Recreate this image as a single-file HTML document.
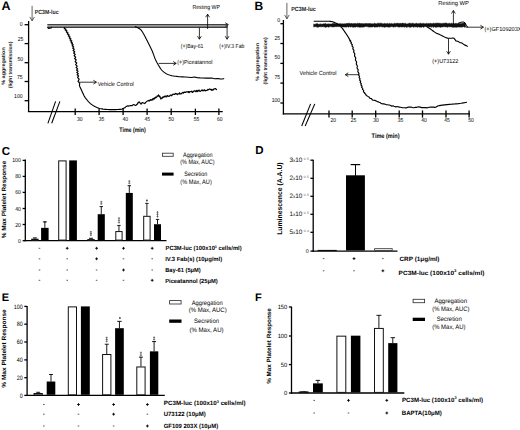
<!DOCTYPE html>
<html><head><meta charset="utf-8"><title>Figure</title>
<style>
html,body{margin:0;padding:0;background:#fff;width:520px;height:430px;overflow:hidden;}
svg{display:block;}
text{font-family:"Liberation Sans",sans-serif;text-rendering:geometricPrecision;}
</style></head><body>
<svg width="520" height="430" viewBox="0 0 520 430">
<defs><clipPath id="clipR"><rect x="0" y="0" width="520" height="430"/></clipPath></defs>
<rect x="0" y="0" width="520" height="430" fill="#fff"/>
<text x="1.6" y="10.2" font-size="12.5" font-weight="bold" fill="#000">A</text>
<line x1="28.6" y1="21" x2="28.6" y2="111.9" stroke="#000" stroke-width="1.3"/>
<line x1="27.95" y1="111.6" x2="222.7" y2="111.6" stroke="#000" stroke-width="1.3"/>
<line x1="24.6" y1="24.7" x2="28.6" y2="24.7" stroke="#000" stroke-width="1.3"/>
<line x1="24.6" y1="43.6" x2="28.6" y2="43.6" stroke="#000" stroke-width="1.3"/>
<line x1="24.6" y1="62.7" x2="28.6" y2="62.7" stroke="#000" stroke-width="1.3"/>
<line x1="24.6" y1="81.5" x2="28.6" y2="81.5" stroke="#000" stroke-width="1.3"/>
<line x1="24.6" y1="100.7" x2="28.6" y2="100.7" stroke="#000" stroke-width="1.3"/>
<text transform="translate(22.6,25.8) scale(0.88,1)" text-anchor="end" font-size="5.8" fill="#000">0</text>
<text transform="translate(23.4,40.8) scale(0.88,1)" text-anchor="end" font-size="5.8" fill="#000">25</text>
<text transform="translate(23.1,60.5) scale(0.88,1)" text-anchor="end" font-size="5.8" fill="#000">50</text>
<text transform="translate(22.6,78.7) scale(0.88,1)" text-anchor="end" font-size="5.8" fill="#000">75</text>
<text transform="translate(22.6,97.9) scale(0.88,1)" text-anchor="end" font-size="5.8" fill="#000">100</text>
<line x1="75.2" y1="108.6" x2="75.2" y2="115.0" stroke="#000" stroke-width="1.3"/>
<line x1="99.1" y1="108.6" x2="99.1" y2="115.0" stroke="#000" stroke-width="1.3"/>
<line x1="123.1" y1="108.6" x2="123.1" y2="115.0" stroke="#000" stroke-width="1.3"/>
<line x1="147.1" y1="108.6" x2="147.1" y2="115.0" stroke="#000" stroke-width="1.3"/>
<line x1="171.2" y1="108.6" x2="171.2" y2="115.0" stroke="#000" stroke-width="1.3"/>
<line x1="195.4" y1="108.6" x2="195.4" y2="115.0" stroke="#000" stroke-width="1.3"/>
<line x1="218.9" y1="108.6" x2="218.9" y2="115.0" stroke="#000" stroke-width="1.3"/>
<text transform="translate(79.8,120.8) scale(0.86,1)" text-anchor="middle" font-size="5.8" fill="#000">30</text>
<text transform="translate(101.4,120.8) scale(0.86,1)" text-anchor="middle" font-size="5.8" fill="#000">35</text>
<text transform="translate(125.3,120.8) scale(0.86,1)" text-anchor="middle" font-size="5.8" fill="#000">40</text>
<text transform="translate(147.2,120.8) scale(0.86,1)" text-anchor="middle" font-size="5.8" fill="#000">45</text>
<text transform="translate(171.3,120.8) scale(0.86,1)" text-anchor="middle" font-size="5.8" fill="#000">50</text>
<text transform="translate(196.6,120.8) scale(0.86,1)" text-anchor="middle" font-size="5.8" fill="#000">55</text>
<text transform="translate(219.8,120.8) scale(0.86,1)" text-anchor="middle" font-size="5.8" fill="#000">60</text>
<text x="119.3" y="131.8" font-size="6.5" font-weight="bold" textLength="26.5" lengthAdjust="spacingAndGlyphs" fill="#000">Time (min)</text>
<line x1="47.9" y1="123.3" x2="55.6" y2="101.4" stroke="#000" stroke-width="1.05"/>
<line x1="51.7" y1="123.3" x2="59.9" y2="101.4" stroke="#000" stroke-width="1.05"/>
<text transform="translate(5.4,66.0) rotate(-90)" font-size="5.0" font-weight="bold" text-anchor="middle" textLength="37.5" lengthAdjust="spacingAndGlyphs" fill="#222">% aggregation</text>
<text transform="translate(11.7,64.9) rotate(-90)" font-size="5.0" font-weight="bold" text-anchor="middle" textLength="46.5" lengthAdjust="spacingAndGlyphs" fill="#222">(light transmission)</text>
<line x1="32.1" y1="5.8" x2="32.1" y2="20.8" stroke="#222" stroke-width="0.7"/>
<path d="M29.80,16.90 L32.10,20.80 L34.40,16.90" fill="none" stroke="#222" stroke-width="0.7" stroke-linejoin="round"/>
<text x="34.8" y="14.4" font-size="6.0" font-weight="bold" textLength="23.8" lengthAdjust="spacingAndGlyphs" fill="#222">PC3M-luc</text>
<rect x="47.4" y="24.3" width="180.6" height="3.4" fill="#9a9a9a"/>
<line x1="47.4" y1="24.5" x2="228" y2="24.5" stroke="#333" stroke-width="0.9"/>
<line x1="47.4" y1="27.3" x2="227" y2="27.3" stroke="#222" stroke-width="1.0"/>
<path d="M47.50,27.30 L48.50,28.30 L51.00,28.00 L52.00,27.30" fill="none" stroke="#000" stroke-width="1.2" stroke-linejoin="round"/>
<path d="M225.20,22.80 L228.40,24.60 L225.20,26.40" fill="none" stroke="#222" stroke-width="0.9" stroke-linejoin="round"/>
<path d="M64.20,27.30 L64.50,27.75 L64.22,28.40 L66.11,29.17 L65.20,30.00 L67.10,30.91 L66.24,31.93 L68.18,32.98 L67.30,34.00 L69.20,34.98 L68.28,35.94 L70.15,36.91 L69.20,37.90 L71.03,38.92 L70.04,39.96 L71.83,40.99 L70.80,42.00 L72.55,42.95 L71.49,43.86 L73.20,44.79 L72.10,45.80 L73.77,46.90 L72.62,48.06 L74.26,49.27 L73.10,50.50 L74.75,51.75 L73.60,53.03 L75.25,54.35 L74.10,55.70 L75.75,57.10 L74.60,58.55 L76.25,60.02 L75.10,61.50 L76.76,63.01 L75.62,64.55 L77.27,66.07 L76.10,67.50 L77.70,68.82 L76.47,70.07 L78.03,71.28 L76.80,72.50 L78.36,73.66 L77.12,74.77 L78.69,75.97 L77.50,77.40 L79.15,79.25 L78.03,81.39 L79.75,83.51 L79.40,85.30 L79.81,86.61 L80.26,87.64 L80.74,88.54 L81.20,89.50 L81.65,90.54 L82.09,91.58 L82.54,92.61 L83.00,93.60 L83.47,94.56 L83.96,95.51 L84.46,96.42 L85.00,97.30 L85.58,98.14 L86.19,98.94 L86.83,99.72 L87.50,100.50 L88.20,101.30 L88.94,102.10 L89.70,102.88 L90.50,103.60 L91.33,104.26 L92.19,104.88 L93.08,105.45 L94.00,106.00 L94.96,106.53 L95.97,107.04 L96.99,107.50 L98.00,107.90 L99.00,108.22 L100.00,108.49 L101.00,108.71 L102.00,108.90 L103.00,109.07 L104.00,109.20 L105.00,109.31 L106.00,109.40 L107.00,109.48 L108.00,109.53 L109.00,109.57 L110.00,109.60 L111.00,109.62 L112.00,109.62 L113.00,109.61 L114.00,109.60 L115.00,109.59 L116.00,109.57 L117.00,109.54 L118.00,109.50 L119.09,109.43 L120.25,109.34 L121.28,109.26 L122.00,109.20" fill="none" stroke="#000" stroke-width="1.15" stroke-linejoin="round"/>
<path d="M122.00,109.06 L122.75,108.62 L123.50,108.72 L124.18,107.80 L124.86,107.71 L125.54,107.11 L126.22,106.41 L126.90,106.31 L127.78,105.85 L128.65,106.10 L129.53,105.73 L130.40,105.67 L131.25,105.64 L132.10,105.66 L132.95,104.80 L133.80,104.58 L134.60,105.00 L135.40,105.36 L136.20,105.16 L136.76,104.38 L137.32,104.20 L137.88,102.82 L138.44,102.83 L139.00,101.73 L139.60,102.38 L140.20,103.13 L140.80,104.05 L141.37,103.89 L141.93,102.81 L142.50,102.57 L143.27,102.98 L144.03,103.13 L144.80,103.64 L145.38,102.68 L145.95,102.10 L146.53,101.64 L147.10,101.44" fill="none" stroke="#000" stroke-width="1.15" stroke-linejoin="round"/>
<path d="M147.10,101.19 L147.54,100.85 L147.99,101.10 L148.43,100.73 L148.88,100.33 L149.32,100.91 L149.77,100.60 L150.21,99.75 L150.66,100.08 L151.10,99.84 L151.54,100.20 L151.97,99.82 L152.41,98.99 L152.85,99.87 L153.29,98.41 L153.72,98.70 L154.16,99.05 L154.60,97.98 L154.96,98.17 L155.33,97.17 L155.69,97.80 L156.05,97.62 L156.42,97.02 L156.78,97.15 L157.15,95.99 L157.51,96.25 L157.87,95.78 L158.24,95.44 L158.60,94.93 L158.87,95.90 L159.13,96.44 L159.40,96.13 L159.67,96.80 L159.93,96.29 L160.20,97.64 L160.47,97.94 L160.73,98.85 L161.00,98.98 L161.44,97.98 L161.89,97.93 L162.33,98.15 L162.78,96.98 L163.22,97.44 L163.67,96.80 L164.11,96.53 L164.56,96.24 L165.00,97.10 L165.46,96.03 L165.92,96.10 L166.38,96.21 L166.84,96.82 L167.30,95.52 L167.76,95.96 L168.22,96.00 L168.68,96.40 L169.14,96.19 L169.60,96.15 L170.06,95.15 L170.52,95.23 L170.98,95.03 L171.44,95.70 L171.90,95.69 L172.36,94.36 L172.82,94.27 L173.28,94.24 L173.74,94.12 L174.20,94.38 L174.65,94.46 L175.09,93.89 L175.54,93.43 L175.98,93.97 L176.43,93.82 L176.88,94.04 L177.32,94.54 L177.77,94.07 L178.22,93.73 L178.66,93.81 L179.11,93.82 L179.55,92.81 L180.00,94.00 L180.47,93.76 L180.94,93.83 L181.41,93.65 L181.88,92.98 L182.35,92.92 L182.82,92.42 L183.29,93.15 L183.76,92.23 L184.24,92.17 L184.71,92.32 L185.18,92.18 L185.65,92.38 L186.12,91.89 L186.59,91.74 L187.06,91.91 L187.53,91.77 L188.00,92.10 L188.46,91.53 L188.92,92.74 L189.39,92.29 L189.85,91.53 L190.31,91.62 L190.77,91.70 L191.23,91.66 L191.70,91.24 L192.16,92.27 L192.62,92.42 L193.08,91.57 L193.54,91.53 L194.00,90.87 L194.47,90.84 L194.93,91.14 L195.39,90.96 L195.85,91.74 L196.31,90.68 L196.78,90.41 L197.24,91.74 L197.70,91.04 L198.16,90.42 L198.61,90.96 L199.07,90.13 L199.53,90.83 L199.99,91.46 L200.44,91.23 L200.90,90.93 L201.36,90.22 L201.81,90.33 L202.27,89.98 L202.73,90.83 L203.19,90.42 L203.64,90.74 L204.10,90.01 L204.56,89.80 L205.01,90.63 L205.47,90.84 L205.93,90.59 L206.39,90.46 L206.84,90.43 L207.30,90.26 L207.76,89.45 L208.22,89.84 L208.69,89.55 L209.15,89.02 L209.61,88.98 L210.07,89.31 L210.53,89.24 L211.00,89.85 L211.46,90.20 L211.92,89.39 L212.38,90.08 L212.84,90.12 L213.30,90.03 L213.77,89.10 L214.23,88.84 L214.69,88.80 L215.15,88.72 L215.61,88.69 L216.08,89.27 L216.54,89.64 L217.00,89.51" fill="none" stroke="#000" stroke-width="1.2" stroke-linejoin="round"/>
<line x1="79.0" y1="82.2" x2="96.4" y2="82.2" stroke="#000" stroke-width="0.8"/>
<path d="M93.40,80.30 L96.40,82.20 L93.40,84.10" fill="none" stroke="#000" stroke-width="0.8" stroke-linejoin="round"/>
<text x="97.8" y="86.0" font-size="6.0" textLength="36.0" lengthAdjust="spacingAndGlyphs" fill="#000">Vehicle Control</text>
<path d="M135.00,26.60 L135.44,26.76 L136.06,26.98 L136.77,27.26 L137.50,27.60 L138.26,28.02 L139.08,28.50 L139.89,29.03 L140.60,29.60 L141.18,30.19 L141.68,30.83 L142.14,31.49 L142.60,32.20 L143.06,32.94 L143.50,33.73 L143.94,34.54 L144.40,35.40 L144.89,36.31 L145.39,37.26 L145.90,38.24 L146.40,39.20 L146.88,40.15 L147.35,41.09 L147.82,42.04 L148.30,43.00 L148.80,43.99 L149.31,45.00 L149.81,46.01 L150.30,47.00 L150.77,47.96 L151.23,48.91 L151.68,49.85 L152.10,50.80 L152.50,51.75 L152.87,52.69 L153.24,53.64 L153.60,54.60 L153.95,55.58 L154.30,56.59 L154.65,57.57 L155.00,58.50 L155.37,59.37 L155.75,60.19 L156.13,60.97 L156.50,61.70 L156.85,62.36 L157.17,62.95 L157.52,63.54 L157.90,64.20 L158.34,64.96 L158.82,65.79 L159.31,66.63 L159.80,67.40 L160.27,68.10 L160.72,68.76 L161.20,69.39 L161.70,70.00 L162.24,70.59 L162.81,71.16 L163.40,71.70 L164.00,72.20 L164.60,72.65 L165.21,73.06 L165.84,73.44 L166.50,73.80 L167.22,74.14 L167.98,74.45 L168.75,74.74 L169.50,75.00 L170.19,75.24 L170.86,75.44 L171.54,75.63 L172.30,75.80 L173.15,75.95 L174.08,76.08 L175.03,76.19 L176.00,76.30 L176.80,76.40 L177.51,76.49 L178.47,76.59 L180.00,76.70 L182.35,76.84 L185.28,76.98 L188.45,77.28 L191.50,77.54 L194.37,77.07 L197.24,77.62 L200.12,77.90 L203.00,77.93 L205.94,78.09 L208.92,78.10 L211.84,78.08 L214.60,78.73 L217.37,78.44 L220.12,78.84 L222.52,78.98 L224.20,78.52" fill="none" stroke="#000" stroke-width="1.1" stroke-linejoin="round"/>
<line x1="158.6" y1="63.4" x2="176.2" y2="63.4" stroke="#000" stroke-width="0.8"/>
<path d="M173.20,61.50 L176.20,63.40 L173.20,65.30" fill="none" stroke="#000" stroke-width="0.8" stroke-linejoin="round"/>
<text x="177.2" y="64.3" font-size="5.9" textLength="35.2" lengthAdjust="spacingAndGlyphs" fill="#000">(+)Piceatannol</text>
<line x1="207.6" y1="29.0" x2="207.6" y2="14.2" stroke="#000" stroke-width="0.8"/>
<path d="M205.70,17.20 L207.60,14.20 L209.50,17.20" fill="none" stroke="#000" stroke-width="0.8" stroke-linejoin="round"/>
<text x="192.4" y="9.4" font-size="5.9" textLength="27.6" lengthAdjust="spacingAndGlyphs" fill="#000">Resting WP</text>
<line x1="199.4" y1="27.6" x2="199.4" y2="39.2" stroke="#000" stroke-width="0.8"/>
<path d="M197.50,36.20 L199.40,39.20 L201.30,36.20" fill="none" stroke="#000" stroke-width="0.8" stroke-linejoin="round"/>
<text x="180.8" y="47.5" font-size="5.9" textLength="22.6" lengthAdjust="spacingAndGlyphs" fill="#000">(+)Bay-61</text>
<line x1="227.1" y1="25.5" x2="227.1" y2="39.2" stroke="#000" stroke-width="0.8"/>
<path d="M225.20,36.20 L227.10,39.20 L229.00,36.20" fill="none" stroke="#000" stroke-width="0.8" stroke-linejoin="round"/>
<text x="219.3" y="47.5" font-size="5.9" textLength="25.0" lengthAdjust="spacingAndGlyphs" fill="#000">(+)IV.3 Fab</text>
<text x="254.4" y="10.0" font-size="12.0" font-weight="bold" fill="#000">B</text>
<line x1="283.4" y1="20.0" x2="283.4" y2="114.5" stroke="#000" stroke-width="1.3"/>
<line x1="282.75" y1="113.9" x2="470.0" y2="113.9" stroke="#000" stroke-width="1.3"/>
<line x1="280.4" y1="23.7" x2="283.4" y2="23.7" stroke="#000" stroke-width="1.3"/>
<line x1="280.4" y1="43.5" x2="283.4" y2="43.5" stroke="#000" stroke-width="1.3"/>
<line x1="280.4" y1="63.4" x2="283.4" y2="63.4" stroke="#000" stroke-width="1.3"/>
<line x1="280.4" y1="83.1" x2="283.4" y2="83.1" stroke="#000" stroke-width="1.3"/>
<line x1="280.4" y1="103.0" x2="283.4" y2="103.0" stroke="#000" stroke-width="1.3"/>
<text transform="translate(280.2,22.2) scale(0.88,1)" text-anchor="end" font-size="5.8" fill="#000">0</text>
<text transform="translate(280.2,40.2) scale(0.88,1)" text-anchor="end" font-size="5.8" fill="#000">25</text>
<text transform="translate(280.2,59.2) scale(0.88,1)" text-anchor="end" font-size="5.8" fill="#000">50</text>
<text transform="translate(280.2,79.2) scale(0.88,1)" text-anchor="end" font-size="5.8" fill="#000">75</text>
<text transform="translate(280.2,101.6) scale(0.88,1)" text-anchor="end" font-size="5.8" fill="#000">100</text>
<line x1="329.0" y1="110.4" x2="329.0" y2="117.6" stroke="#000" stroke-width="1.3"/>
<line x1="352.2" y1="110.4" x2="352.2" y2="117.6" stroke="#000" stroke-width="1.3"/>
<line x1="375.7" y1="110.4" x2="375.7" y2="117.6" stroke="#000" stroke-width="1.3"/>
<line x1="399.2" y1="110.4" x2="399.2" y2="117.6" stroke="#000" stroke-width="1.3"/>
<line x1="422.5" y1="110.4" x2="422.5" y2="117.6" stroke="#000" stroke-width="1.3"/>
<line x1="446.0" y1="110.4" x2="446.0" y2="117.6" stroke="#000" stroke-width="1.3"/>
<line x1="469.1" y1="110.4" x2="469.1" y2="117.6" stroke="#000" stroke-width="1.3"/>
<text transform="translate(333.3,122.3) scale(0.86,1)" text-anchor="middle" font-size="5.8" fill="#000">20</text>
<text transform="translate(353.4,122.3) scale(0.86,1)" text-anchor="middle" font-size="5.8" fill="#000">25</text>
<text transform="translate(375.9,122.3) scale(0.86,1)" text-anchor="middle" font-size="5.8" fill="#000">30</text>
<text transform="translate(400.5,122.3) scale(0.86,1)" text-anchor="middle" font-size="5.8" fill="#000">35</text>
<text transform="translate(423.9,122.3) scale(0.86,1)" text-anchor="middle" font-size="5.8" fill="#000">40</text>
<text transform="translate(446.9,122.3) scale(0.86,1)" text-anchor="middle" font-size="5.8" fill="#000">45</text>
<text transform="translate(471.0,122.3) scale(0.86,1)" text-anchor="middle" font-size="5.8" fill="#000">50</text>
<text x="371.6" y="138.2" font-size="6.5" font-weight="bold" textLength="28.0" lengthAdjust="spacingAndGlyphs" fill="#000">Time (min)</text>
<line x1="301.7" y1="126.0" x2="310.6" y2="103.9" stroke="#000" stroke-width="1.05"/>
<line x1="305.2" y1="126.0" x2="314.8" y2="103.9" stroke="#000" stroke-width="1.05"/>
<text transform="translate(258.8,61.9) rotate(-90)" font-size="5.0" font-weight="bold" text-anchor="middle" textLength="38.0" lengthAdjust="spacingAndGlyphs" fill="#222">% aggregation</text>
<text transform="translate(266.8,60.9) rotate(-90)" font-size="5.0" font-weight="bold" text-anchor="middle" textLength="47.0" lengthAdjust="spacingAndGlyphs" fill="#222">(light transmission)</text>
<line x1="286.9" y1="2.9" x2="286.9" y2="18.8" stroke="#222" stroke-width="0.7"/>
<path d="M284.60,14.90 L286.90,18.80 L289.20,14.90" fill="none" stroke="#222" stroke-width="0.7" stroke-linejoin="round"/>
<text x="291.2" y="11.3" font-size="6.0" font-weight="bold" textLength="24.6" lengthAdjust="spacingAndGlyphs" fill="#222">PC3M-luc</text>
<path d="M313.70,23.92 L314.51,24.35 L315.32,24.16 L316.14,23.71 L316.95,23.67 L317.76,23.68 L318.57,24.27 L319.39,24.18 L320.20,23.65 L321.01,24.18 L321.82,24.30 L322.64,24.03 L323.45,23.78 L324.26,23.92 L325.07,23.58 L325.88,23.48 L326.70,24.24 L327.51,23.97 L328.32,23.86 L329.13,24.18 L329.95,23.77 L330.76,24.11 L331.57,24.07 L332.38,23.57 L333.19,23.59 L334.01,23.62 L334.82,23.56 L335.63,23.83 L336.44,23.56 L337.26,23.68 L338.07,23.44 L338.88,24.06 L339.69,23.60 L340.51,23.68 L341.32,23.77 L342.13,24.02 L342.94,23.62 L343.75,24.01 L344.57,23.67 L345.38,23.68 L346.19,23.67 L347.00,23.26 L347.82,23.58 L348.63,23.37 L349.44,23.22 L350.25,23.84 L351.06,23.33 L351.88,23.57 L352.69,23.76 L353.50,23.62 L354.31,23.42 L355.13,23.57 L355.94,23.59 L356.75,23.76 L357.56,23.21 L358.38,23.57 L359.19,23.31 L360.00,23.32 L360.80,23.72 L361.60,23.51 L362.40,23.55 L363.20,23.71 L364.00,23.83 L364.80,23.45 L365.60,23.59 L366.40,23.50 L367.20,23.51 L368.00,23.65 L368.80,23.46 L369.60,23.53 L370.40,23.48 L371.20,23.85 L372.00,23.66 L372.80,23.80 L373.60,23.85 L374.40,23.31 L375.20,23.55 L376.00,23.85 L376.80,23.77 L377.60,23.21 L378.40,23.20 L379.20,23.45 L380.00,23.16 L380.80,23.29 L381.60,23.16 L382.40,23.64 L383.20,23.73 L384.00,23.82 L384.80,23.22 L385.60,23.67 L386.40,23.63 L387.20,23.21 L388.00,23.81 L388.80,23.87 L389.60,23.28 L390.40,23.86 L391.20,23.42 L392.00,23.49 L392.80,23.89 L393.60,23.77 L394.40,23.23 L395.20,23.45 L396.00,23.51 L396.80,23.37 L397.60,23.26 L398.40,23.35 L399.20,23.68 L400.00,23.12 L400.80,23.54 L401.60,23.45 L402.40,23.11 L403.20,23.37 L404.00,23.60 L404.80,23.51 L405.60,23.15 L406.40,23.89 L407.20,23.73 L408.00,23.88 L408.80,23.18 L409.60,23.31 L410.40,23.13 L411.20,23.72 L412.00,23.32 L412.80,23.20 L413.60,23.44 L414.40,23.83 L415.20,23.76 L416.00,23.31 L416.80,23.22 L417.60,23.84 L418.40,23.56 L419.20,23.66 L420.00,23.17 L420.81,23.14 L421.62,23.65 L422.44,23.43 L423.25,23.15 L424.06,23.84 L424.88,23.60 L425.69,23.73 L426.50,23.15 L427.31,23.77 L428.12,23.14 L428.94,23.77 L429.75,23.44 L430.56,23.35 L431.38,23.52 L432.19,23.81 L433.00,23.29 L433.81,23.17 L434.62,23.49 L435.44,23.26 L436.25,23.15 L437.06,23.19 L437.88,23.10 L438.69,23.22 L439.50,23.31 L440.31,23.30 L441.12,23.66 L441.94,23.28 L442.75,23.45 L443.56,23.19 L444.38,23.32 L445.19,23.06 L446.00,23.24 L446.81,23.05 L447.62,23.63 L448.44,23.48 L449.25,23.19 L450.06,23.41 L450.88,23.78 L451.69,23.12 L452.50,23.68 L453.31,23.37 L454.12,23.42 L454.94,23.69 L455.75,23.34 L456.56,23.42 L457.38,23.57 L458.19,23.80 L459.00,23.29 L459.81,23.68 L460.62,23.58 L461.44,23.52 L462.25,23.33 L463.06,23.28 L463.88,23.05 L464.69,23.11 L465.50,23.06 L465.50,26.70 L464.69,27.34 L463.88,26.64 L463.06,26.83 L462.25,27.12 L461.44,27.20 L460.62,26.96 L459.81,27.19 L459.00,26.64 L458.19,27.18 L457.38,27.04 L456.56,27.35 L455.75,27.33 L454.94,27.10 L454.12,27.25 L453.31,27.31 L452.50,27.36 L451.69,26.90 L450.88,26.75 L450.06,27.01 L449.25,26.81 L448.44,26.80 L447.62,27.35 L446.81,26.83 L446.00,27.27 L445.19,26.68 L444.38,26.64 L443.56,26.82 L442.75,26.94 L441.94,26.89 L441.12,27.07 L440.31,27.40 L439.50,26.91 L438.69,26.90 L437.88,26.83 L437.06,27.32 L436.25,27.17 L435.44,27.34 L434.62,26.70 L433.81,27.27 L433.00,27.20 L432.19,26.60 L431.38,27.27 L430.56,26.85 L429.75,26.88 L428.94,26.71 L428.12,26.84 L427.31,26.96 L426.50,26.99 L425.69,26.60 L424.88,26.62 L424.06,26.99 L423.25,27.32 L422.44,26.79 L421.62,27.16 L420.81,27.31 L420.00,27.01 L419.20,27.25 L418.40,26.70 L417.60,27.36 L416.80,27.01 L416.00,26.71 L415.20,27.06 L414.40,26.76 L413.60,27.35 L412.80,26.76 L412.00,26.80 L411.20,26.94 L410.40,27.36 L409.60,27.24 L408.80,26.95 L408.00,26.59 L407.20,27.33 L406.40,27.36 L405.60,26.74 L404.80,27.29 L404.00,26.67 L403.20,26.95 L402.40,26.94 L401.60,26.98 L400.80,26.80 L400.00,27.11 L399.20,27.12 L398.40,27.10 L397.60,26.78 L396.80,26.61 L396.00,26.57 L395.20,27.01 L394.40,26.80 L393.60,27.15 L392.80,26.76 L392.00,26.67 L391.20,26.61 L390.40,27.06 L389.60,27.04 L388.80,27.16 L388.00,27.09 L387.20,26.93 L386.40,26.85 L385.60,26.94 L384.80,27.32 L384.00,27.13 L383.20,26.70 L382.40,27.12 L381.60,26.75 L380.80,26.59 L380.00,26.74 L379.20,27.12 L378.40,26.58 L377.60,27.06 L376.80,26.96 L376.00,26.93 L375.20,27.12 L374.40,27.16 L373.60,26.53 L372.80,26.91 L372.00,27.06 L371.20,27.02 L370.40,27.02 L369.60,26.96 L368.80,27.18 L368.00,26.60 L367.20,26.80 L366.40,26.62 L365.60,26.53 L364.80,26.69 L364.00,27.06 L363.20,27.05 L362.40,27.22 L361.60,26.97 L360.80,27.16 L360.00,27.14 L359.19,27.17 L358.38,26.90 L357.56,26.92 L356.75,26.61 L355.94,27.15 L355.13,27.09 L354.31,27.00 L353.50,27.21 L352.69,27.17 L351.88,26.54 L351.06,27.01 L350.25,27.08 L349.44,26.62 L348.63,27.29 L347.82,26.76 L347.00,26.81 L346.19,27.20 L345.38,27.07 L344.57,27.03 L343.75,27.10 L342.94,26.92 L342.13,26.97 L341.32,26.69 L340.51,26.74 L339.69,26.52 L338.88,26.53 L338.07,26.82 L337.26,26.57 L336.44,26.71 L335.63,26.50 L334.82,26.90 L334.01,26.66 L333.19,26.90 L332.38,26.88 L331.57,26.81 L330.76,26.50 L329.95,26.79 L329.13,26.75 L328.32,27.27 L327.51,26.70 L326.70,26.94 L325.88,27.28 L325.07,27.27 L324.26,26.71 L323.45,26.86 L322.64,26.63 L321.82,26.87 L321.01,26.73 L320.20,26.69 L319.39,26.73 L318.57,27.04 L317.76,27.20 L316.95,27.17 L316.14,26.57 L315.32,26.63 L314.51,26.70 L313.70,27.09 Z" fill="#111" stroke="#111" stroke-width="0.5"/>
<path d="M458.00,23.40 L461.00,22.20 L464.00,22.00 L465.50,23.50 L466.50,26.20 L468.20,27.20" fill="none" stroke="#000" stroke-width="1.0" stroke-linejoin="round"/>
<path d="M313.70,21.30 L314.76,21.28 L316.27,21.24 L318.07,21.21 L320.00,21.20 L322.23,21.20 L324.79,21.21 L327.25,21.24 L329.20,21.30 L330.44,21.38 L331.23,21.48 L331.83,21.62 L332.50,21.80 L333.31,22.05 L334.12,22.36 L334.89,22.68 L335.60,23.00 L336.22,23.30 L336.78,23.61 L337.30,23.91 L337.80,24.20 L338.26,24.44 L338.69,24.66 L339.12,24.91 L339.60,25.30 L340.16,25.86 L340.78,26.53 L341.40,27.27 L342.00,28.00 L342.55,28.71 L343.09,29.43 L343.63,30.19 L344.20,31.00 L344.82,31.88 L345.47,32.82 L346.14,33.80 L346.80,34.80 L347.48,35.88 L348.19,37.04 L348.85,38.15 L349.40,39.10 L349.78,39.78 L349.65,40.29 L350.69,40.80 L350.20,41.50 L351.41,42.44 L351.08,43.52 L352.35,44.72 L352.00,46.00 L353.21,47.35 L352.80,48.78 L353.99,50.32 L353.60,52.00 L354.84,53.86 L354.50,55.88 L355.76,57.95 L355.40,60.00 L356.62,62.02 L356.22,64.06 L357.41,66.07 L357.00,68.00 L358.19,69.87 L357.78,71.69 L358.96,73.41 L358.50,75.00 L359.60,76.39 L359.06,77.62 L360.12,78.80 L359.60,80.00 L360.71,81.26 L360.23,82.53 L361.36,83.79 L360.90,85.00 L362.04,86.17 L361.59,87.31 L362.77,88.40 L362.40,89.36 L363.70,90.38 L363.44,91.83 L364.82,93.03 L364.60,93.28 L365.98,94.43 L365.77,94.81 L366.78,95.67 L367.40,96.10 L368.03,96.41 L368.66,96.85 L369.32,97.31 L370.00,98.37 L370.71,98.45 L371.43,98.65 L372.19,99.72 L373.00,100.25 L373.89,100.20 L374.83,100.36 L375.79,100.83 L376.70,101.13 L377.54,101.71 L378.33,101.81 L379.14,102.26 L380.00,102.58 L380.94,103.17 L381.93,103.76 L382.96,103.93 L384.00,103.92 L385.07,104.21 L386.16,104.58 L387.28,104.72 L388.40,104.95 L389.55,104.97 L390.72,105.42 L391.89,106.29 L393.00,105.76 L394.05,106.30 L395.05,106.60 L396.03,106.97 L397.00,106.54 L397.87,106.74 L398.67,106.85 L399.58,107.11 L400.80,107.25 L402.36,107.79 L404.17,107.76 L406.22,107.83 L408.50,107.07 L411.06,107.03 L412.47,107.58 L413.89,107.70 L415.39,107.27 L416.90,107.32 L418.45,106.77 L420.00,107.10 L421.74,107.62 L423.48,107.56 L425.38,107.65 L427.28,107.82 L429.05,107.22 L430.82,107.15 L433.50,107.19 L435.00,107.36 L435.68,107.24 L436.02,107.17 L436.50,106.70 L437.08,106.40 L437.56,106.29 L438.18,105.79 L439.20,105.65 L440.68,105.36 L442.49,105.11 L444.58,104.85 L446.90,104.60 L449.60,104.36 L451.12,104.24 L452.65,104.12 L454.19,103.99 L455.73,103.87 L458.50,103.60 L461.04,103.27 L463.48,102.89 L465.55,102.54 L467.00,102.30" fill="none" stroke="#000" stroke-width="1.15" stroke-linejoin="round"/>
<line x1="359.3" y1="74.7" x2="345.3" y2="74.7" stroke="#000" stroke-width="0.8"/>
<path d="M348.30,72.80 L345.30,74.70 L348.30,76.60" fill="none" stroke="#000" stroke-width="0.8" stroke-linejoin="round"/>
<text x="299.6" y="75.2" font-size="6.0" textLength="37.0" lengthAdjust="spacingAndGlyphs" fill="#000">Vehicle Control</text>
<path d="M427.30,27.00 L428.13,27.50 L429.31,28.22 L430.50,29.00 L431.61,29.83 L432.74,30.71 L433.80,31.50 L434.73,32.14 L435.60,32.70 L436.50,33.20 L437.48,33.63 L438.49,34.00 L439.50,34.40 L440.51,34.88 L441.51,35.40 L442.50,35.90 L443.47,36.40 L444.42,36.88 L445.30,37.30 L446.08,37.63 L446.80,37.90 L447.50,38.10 L448.21,38.22 L448.92,38.28 L449.60,38.30 L450.26,38.29 L450.89,38.25 L451.50,38.20 L452.09,38.10 L452.66,37.98 L453.20,38.00 L453.69,38.21 L454.14,38.19 L454.60,39.23 L455.06,39.39 L455.53,40.64 L456.10,41.02 L456.82,41.11 L457.64,41.22 L458.50,41.60 L459.36,42.26 L460.24,42.70 L461.20,42.69 L462.26,43.21 L463.39,44.20 L464.50,44.87 L465.69,45.38 L466.87,45.91 L467.70,46.68" fill="none" stroke="#000" stroke-width="1.1" stroke-linejoin="round"/>
<line x1="448.5" y1="38.5" x2="448.5" y2="54.2" stroke="#000" stroke-width="0.8"/>
<path d="M446.60,51.20 L448.50,54.20 L450.40,51.20" fill="none" stroke="#000" stroke-width="0.8" stroke-linejoin="round"/>
<text x="432.3" y="63.1" font-size="5.9" textLength="26.0" lengthAdjust="spacingAndGlyphs" fill="#000">(+)U73122</text>
<line x1="453.4" y1="24.0" x2="453.4" y2="10.5" stroke="#000" stroke-width="0.8"/>
<path d="M451.50,13.50 L453.40,10.50 L455.30,13.50" fill="none" stroke="#000" stroke-width="0.8" stroke-linejoin="round"/>
<text x="438.3" y="5.2" font-size="5.9" textLength="30.6" lengthAdjust="spacingAndGlyphs" fill="#000">Resting WP</text>
<line x1="465.5" y1="27.2" x2="483.4" y2="27.2" stroke="#000" stroke-width="0.8"/>
<path d="M480.40,25.30 L483.40,27.20 L480.40,29.10" fill="none" stroke="#000" stroke-width="0.8" stroke-linejoin="round"/>
<text x="484.5" y="30.5" font-size="5.9" textLength="37.0" lengthAdjust="spacingAndGlyphs" fill="#000">(+)GF109203X</text>
<text x="1.8" y="154.6" font-size="11.5" font-weight="bold" fill="#000">C</text>
<line x1="25.3" y1="159.5" x2="25.3" y2="241.3" stroke="#000" stroke-width="1.3"/>
<line x1="24.65" y1="240.7" x2="166.5" y2="240.7" stroke="#000" stroke-width="1.3"/>
<line x1="22.6" y1="160.4" x2="25.3" y2="160.4" stroke="#000" stroke-width="1.3"/>
<text transform="translate(20.9,162.4) scale(0.88,1)" text-anchor="end" font-size="5.9" fill="#000">100</text>
<line x1="22.6" y1="176.4" x2="25.3" y2="176.4" stroke="#000" stroke-width="1.3"/>
<text transform="translate(20.9,178.4) scale(0.88,1)" text-anchor="end" font-size="5.9" fill="#000">80</text>
<line x1="22.6" y1="192.4" x2="25.3" y2="192.4" stroke="#000" stroke-width="1.3"/>
<text transform="translate(20.9,194.4) scale(0.88,1)" text-anchor="end" font-size="5.9" fill="#000">60</text>
<line x1="22.6" y1="208.5" x2="25.3" y2="208.5" stroke="#000" stroke-width="1.3"/>
<text transform="translate(20.9,210.5) scale(0.88,1)" text-anchor="end" font-size="5.9" fill="#000">40</text>
<line x1="22.6" y1="224.5" x2="25.3" y2="224.5" stroke="#000" stroke-width="1.3"/>
<text transform="translate(20.9,226.5) scale(0.88,1)" text-anchor="end" font-size="5.9" fill="#000">20</text>
<line x1="22.6" y1="240.7" x2="25.3" y2="240.7" stroke="#000" stroke-width="1.3"/>
<text transform="translate(20.9,242.7) scale(0.88,1)" text-anchor="end" font-size="5.9" fill="#000">0</text>
<text transform="translate(6.3,199.5) rotate(-90)" font-size="6.2" font-weight="bold" text-anchor="middle" textLength="77.5" lengthAdjust="spacingAndGlyphs" fill="#000">% Max Platelet Response</text>
<rect x="31.7" y="239.1925" width="6.400000000000002" height="0.9074999999999989" fill="#fff" stroke="#111" stroke-width="1.0"/>
<line x1="34.9" y1="238.6925" x2="34.9" y2="237.8895" stroke="#000" stroke-width="0.9"/>
<line x1="32.9" y1="237.8895" x2="36.9" y2="237.8895" stroke="#000" stroke-width="0.9"/>
<rect x="41.1" y="227.852" width="7.5" height="12.24799999999999" fill="#000"/>
<line x1="44.85" y1="227.852" x2="44.85" y2="221.8295" stroke="#000" stroke-width="0.9"/>
<line x1="42.85" y1="221.8295" x2="46.85" y2="221.8295" stroke="#000" stroke-width="0.9"/>
<circle cx="44.9" cy="222.0" r="0.9" fill="#333"/>
<rect x="58.7" y="160.9" width="7.3999999999999915" height="79.19999999999999" fill="#fff" stroke="#111" stroke-width="1.0"/>
<rect x="69.2" y="160.4" width="7.700000000000003" height="79.69999999999999" fill="#000"/>
<rect x="87.8" y="239.594" width="6.400000000000006" height="0.5060000000000002" fill="#fff" stroke="#111" stroke-width="1.0"/>
<line x1="91.0" y1="239.094" x2="91.0" y2="238.291" stroke="#000" stroke-width="0.9"/>
<line x1="89.0" y1="238.291" x2="93.0" y2="238.291" stroke="#000" stroke-width="0.9"/>
<line x1="90.9" y1="231.0" x2="90.9" y2="236.0" stroke="#444" stroke-width="0.7"/>
<line x1="89.80000000000001" y1="231.83333333333334" x2="92.0" y2="231.83333333333334" stroke="#444" stroke-width="0.6"/>
<line x1="89.80000000000001" y1="233.5" x2="92.0" y2="233.5" stroke="#444" stroke-width="0.6"/>
<line x1="89.80000000000001" y1="235.16666666666666" x2="92.0" y2="235.16666666666666" stroke="#444" stroke-width="0.6"/>
<rect x="97.7" y="214.201" width="7.099999999999994" height="25.899" fill="#000"/>
<line x1="101.25" y1="214.201" x2="101.25" y2="206.5725" stroke="#000" stroke-width="0.9"/>
<line x1="99.55" y1="206.5725" x2="102.95" y2="206.5725" stroke="#000" stroke-width="0.9"/>
<line x1="101.3" y1="200.9" x2="101.3" y2="204.8" stroke="#444" stroke-width="0.7"/>
<line x1="100.2" y1="201.875" x2="102.39999999999999" y2="201.875" stroke="#444" stroke-width="0.6"/>
<line x1="100.2" y1="203.82500000000002" x2="102.39999999999999" y2="203.82500000000002" stroke="#444" stroke-width="0.6"/>
<rect x="115.8" y="231.564" width="6.299999999999997" height="8.536000000000001" fill="#fff" stroke="#111" stroke-width="1.0"/>
<line x1="118.94999999999999" y1="231.064" x2="118.94999999999999" y2="225.44299999999998" stroke="#000" stroke-width="0.9"/>
<line x1="117.24999999999999" y1="225.44299999999998" x2="120.64999999999999" y2="225.44299999999998" stroke="#000" stroke-width="0.9"/>
<line x1="119.0" y1="217.2" x2="119.0" y2="223.5" stroke="#444" stroke-width="0.7"/>
<line x1="117.9" y1="218.25" x2="120.1" y2="218.25" stroke="#444" stroke-width="0.6"/>
<line x1="117.9" y1="220.35" x2="120.1" y2="220.35" stroke="#444" stroke-width="0.6"/>
<line x1="117.9" y1="222.45" x2="120.1" y2="222.45" stroke="#444" stroke-width="0.6"/>
<rect x="125.8" y="192.9215" width="7.000000000000014" height="47.178499999999985" fill="#000"/>
<line x1="129.3" y1="192.9215" x2="129.3" y2="185.6945" stroke="#000" stroke-width="0.9"/>
<line x1="127.60000000000001" y1="185.6945" x2="131.0" y2="185.6945" stroke="#000" stroke-width="0.9"/>
<line x1="129.3" y1="180.2" x2="129.3" y2="184.2" stroke="#444" stroke-width="0.7"/>
<line x1="128.20000000000002" y1="181.2" x2="130.4" y2="181.2" stroke="#444" stroke-width="0.6"/>
<line x1="128.20000000000002" y1="183.2" x2="130.4" y2="183.2" stroke="#444" stroke-width="0.6"/>
<rect x="143.7" y="216.307" width="6.400000000000006" height="23.793000000000006" fill="#fff" stroke="#111" stroke-width="1.0"/>
<line x1="146.89999999999998" y1="215.807" x2="146.89999999999998" y2="203.3605" stroke="#000" stroke-width="0.9"/>
<line x1="145.2" y1="203.3605" x2="148.59999999999997" y2="203.3605" stroke="#000" stroke-width="0.9"/>
<circle cx="146.9" cy="200.5" r="0.9" fill="#333"/>
<rect x="154.0" y="224.2385" width="7.0" height="15.861500000000007" fill="#000"/>
<line x1="157.5" y1="224.2385" x2="157.5" y2="219.4205" stroke="#000" stroke-width="0.9"/>
<line x1="155.8" y1="219.4205" x2="159.2" y2="219.4205" stroke="#000" stroke-width="0.9"/>
<line x1="157.5" y1="211.2" x2="157.5" y2="217.6" stroke="#444" stroke-width="0.7"/>
<line x1="156.4" y1="212.26666666666665" x2="158.6" y2="212.26666666666665" stroke="#444" stroke-width="0.6"/>
<line x1="156.4" y1="214.39999999999998" x2="158.6" y2="214.39999999999998" stroke="#444" stroke-width="0.6"/>
<line x1="156.4" y1="216.53333333333333" x2="158.6" y2="216.53333333333333" stroke="#444" stroke-width="0.6"/>
<rect x="162.4" y="153.2" width="10.799999999999999" height="3.1" fill="#fff" stroke="#333" stroke-width="0.85"/>
<rect x="162.0" y="172.6" width="11.6" height="3.0" fill="#000"/>
<text x="183.0" y="156.9" font-size="6.4" textLength="29.6" lengthAdjust="spacingAndGlyphs" fill="#000">Aggregation</text>
<text x="180.3" y="164.4" font-size="6.4" textLength="34.2" lengthAdjust="spacingAndGlyphs" fill="#000">(% Max, AUC)</text>
<text x="184.3" y="175.9" font-size="6.4" textLength="23.0" lengthAdjust="spacingAndGlyphs" fill="#000">Secretion</text>
<text x="180.3" y="183.6" font-size="6.4" textLength="31.5" lengthAdjust="spacingAndGlyphs" fill="#000">(% Max, AU)</text>
<line x1="38.7" y1="248.3" x2="40.3" y2="248.3" stroke="#333" stroke-width="0.8"/>
<line x1="65.8" y1="248.3" x2="68.60000000000001" y2="248.3" stroke="#000" stroke-width="0.9"/>
<line x1="67.2" y1="246.9" x2="67.2" y2="249.70000000000002" stroke="#000" stroke-width="0.9"/>
<line x1="95.19999999999999" y1="248.3" x2="98.0" y2="248.3" stroke="#000" stroke-width="0.9"/>
<line x1="96.6" y1="246.9" x2="96.6" y2="249.70000000000002" stroke="#000" stroke-width="0.9"/>
<line x1="122.1" y1="248.3" x2="124.9" y2="248.3" stroke="#000" stroke-width="0.9"/>
<line x1="123.5" y1="246.9" x2="123.5" y2="249.70000000000002" stroke="#000" stroke-width="0.9"/>
<line x1="150.79999999999998" y1="248.3" x2="153.6" y2="248.3" stroke="#000" stroke-width="0.9"/>
<line x1="152.2" y1="246.9" x2="152.2" y2="249.70000000000002" stroke="#000" stroke-width="0.9"/>
<line x1="38.7" y1="258.8" x2="40.3" y2="258.8" stroke="#333" stroke-width="0.8"/>
<line x1="66.4" y1="258.8" x2="68.0" y2="258.8" stroke="#333" stroke-width="0.8"/>
<line x1="95.19999999999999" y1="258.8" x2="98.0" y2="258.8" stroke="#000" stroke-width="0.9"/>
<line x1="96.6" y1="257.40000000000003" x2="96.6" y2="260.2" stroke="#000" stroke-width="0.9"/>
<line x1="122.7" y1="258.8" x2="124.3" y2="258.8" stroke="#333" stroke-width="0.8"/>
<line x1="151.39999999999998" y1="258.8" x2="153.0" y2="258.8" stroke="#333" stroke-width="0.8"/>
<line x1="38.7" y1="270.0" x2="40.3" y2="270.0" stroke="#333" stroke-width="0.8"/>
<line x1="66.4" y1="270.0" x2="68.0" y2="270.0" stroke="#333" stroke-width="0.8"/>
<line x1="95.8" y1="270.0" x2="97.39999999999999" y2="270.0" stroke="#333" stroke-width="0.8"/>
<line x1="122.1" y1="270.0" x2="124.9" y2="270.0" stroke="#000" stroke-width="0.9"/>
<line x1="123.5" y1="268.6" x2="123.5" y2="271.4" stroke="#000" stroke-width="0.9"/>
<line x1="151.39999999999998" y1="270.0" x2="153.0" y2="270.0" stroke="#333" stroke-width="0.8"/>
<line x1="38.7" y1="280.3" x2="40.3" y2="280.3" stroke="#333" stroke-width="0.8"/>
<line x1="66.4" y1="280.3" x2="68.0" y2="280.3" stroke="#333" stroke-width="0.8"/>
<line x1="95.8" y1="280.3" x2="97.39999999999999" y2="280.3" stroke="#333" stroke-width="0.8"/>
<line x1="122.7" y1="280.3" x2="124.3" y2="280.3" stroke="#333" stroke-width="0.8"/>
<line x1="150.79999999999998" y1="280.3" x2="153.6" y2="280.3" stroke="#000" stroke-width="0.9"/>
<line x1="152.2" y1="278.90000000000003" x2="152.2" y2="281.7" stroke="#000" stroke-width="0.9"/>
<text x="165.6" y="250.3" font-size="6.0" font-weight="bold" textLength="76.0" lengthAdjust="spacingAndGlyphs" fill="#000">PC3M-luc (100x10<tspan font-size="3.6" dy="-2.2">3</tspan><tspan dy="2.2"> cells/ml)</tspan></text>
<text x="165.2" y="260.6" font-size="6.0" font-weight="bold" textLength="57.0" lengthAdjust="spacingAndGlyphs" fill="#000">IV.3 Fab(s) (10μg/ml)</text>
<text x="165.2" y="271.9" font-size="6.0" font-weight="bold" textLength="35.6" lengthAdjust="spacingAndGlyphs" fill="#000">Bay-61 (5μM)</text>
<text x="165.2" y="283.1" font-size="6.0" font-weight="bold" textLength="52.6" lengthAdjust="spacingAndGlyphs" fill="#000">Piceatannol (25μM)</text>
<text x="255.2" y="154.4" font-size="11.5" font-weight="bold" fill="#000">D</text>
<line x1="313.2" y1="159.7" x2="313.2" y2="251.7" stroke="#000" stroke-width="1.3"/>
<line x1="312.55" y1="251.1" x2="397.5" y2="251.1" stroke="#000" stroke-width="1.3"/>
<line x1="310.4" y1="160.2" x2="313.2" y2="160.2" stroke="#000" stroke-width="1.3"/>
<line x1="310.4" y1="178.3" x2="313.2" y2="178.3" stroke="#000" stroke-width="1.3"/>
<line x1="310.4" y1="196.3" x2="313.2" y2="196.3" stroke="#000" stroke-width="1.3"/>
<line x1="310.4" y1="214.3" x2="313.2" y2="214.3" stroke="#000" stroke-width="1.3"/>
<line x1="310.4" y1="232.3" x2="313.2" y2="232.3" stroke="#000" stroke-width="1.3"/>
<line x1="310.4" y1="251.1" x2="313.2" y2="251.1" stroke="#000" stroke-width="1.3"/>
<text x="289.4" y="161.89999999999998" font-size="6.4" fill="#111">3<tspan font-size="4.6" dy="0.3">x</tspan><tspan dy="-0.3">10</tspan><tspan font-size="3.4" dx="1.3" dy="-2.4" fill="#555" letter-spacing="0.3">0.5</tspan></text>
<text x="289.4" y="180.0" font-size="6.4" fill="#111">2<tspan font-size="4.6" dy="0.3">x</tspan><tspan dy="-0.3">10</tspan><tspan font-size="3.4" dx="1.3" dy="-2.4" fill="#555" letter-spacing="0.3">0.5</tspan></text>
<text x="289.4" y="198.0" font-size="6.4" fill="#111">2<tspan font-size="4.6" dy="0.3">x</tspan><tspan dy="-0.3">10</tspan><tspan font-size="3.4" dx="1.3" dy="-2.4" fill="#555" letter-spacing="0.3">0.5</tspan></text>
<text x="289.4" y="216.0" font-size="6.4" fill="#111">1<tspan font-size="4.6" dy="0.3">x</tspan><tspan dy="-0.3">10</tspan><tspan font-size="3.4" dx="1.3" dy="-2.4" fill="#555" letter-spacing="0.3">0.5</tspan></text>
<text x="289.4" y="234.0" font-size="6.4" fill="#111">5<tspan font-size="4.6" dy="0.3">x</tspan><tspan dy="-0.3">10</tspan><tspan font-size="3.4" dx="1.3" dy="-2.4" fill="#555" letter-spacing="0.3">0.4</tspan></text>
<text x="308.8" y="252.7" font-size="5.4" text-anchor="end" fill="#000">0</text>
<text transform="translate(282.2,198.6) rotate(-90)" font-size="7.0" font-weight="bold" text-anchor="middle" textLength="72.5" lengthAdjust="spacingAndGlyphs" fill="#000">Luminescence (A.A.U)</text>
<rect x="317.6" y="249.9" width="19.2" height="1.0" fill="#000"/>
<rect x="346.0" y="175.3" width="18.899999999999977" height="75.19999999999999" fill="#000"/>
<line x1="355.5" y1="175.8" x2="355.5" y2="164.6" stroke="#000" stroke-width="1.0"/>
<line x1="350.6" y1="164.6" x2="360.2" y2="164.6" stroke="#000" stroke-width="1.2"/>
<rect x="374.6" y="248.7" width="17.6" height="1.8" fill="#fff" stroke="#333" stroke-width="0.85"/>
<line x1="322.8" y1="258.6" x2="324.40000000000003" y2="258.6" stroke="#333" stroke-width="0.8"/>
<line x1="352.6" y1="258.6" x2="355.4" y2="258.6" stroke="#000" stroke-width="0.9"/>
<line x1="354.0" y1="257.20000000000005" x2="354.0" y2="260.0" stroke="#000" stroke-width="0.9"/>
<line x1="382.09999999999997" y1="258.6" x2="383.7" y2="258.6" stroke="#333" stroke-width="0.8"/>
<line x1="322.8" y1="270.8" x2="324.40000000000003" y2="270.8" stroke="#333" stroke-width="0.8"/>
<line x1="353.2" y1="270.8" x2="354.8" y2="270.8" stroke="#333" stroke-width="0.8"/>
<line x1="381.5" y1="270.8" x2="384.29999999999995" y2="270.8" stroke="#000" stroke-width="0.9"/>
<line x1="382.9" y1="269.40000000000003" x2="382.9" y2="272.2" stroke="#000" stroke-width="0.9"/>
<text x="399.5" y="260.9" font-size="6.2" font-weight="bold" textLength="40.0" lengthAdjust="spacingAndGlyphs" fill="#000">CRP (1μg/ml)</text>
<text x="398.6" y="274.6" font-size="6.1" font-weight="bold" textLength="85.8" lengthAdjust="spacingAndGlyphs" fill="#000">PC3M-luc (100x10<tspan font-size="4.0" dy="-2.4">3</tspan><tspan dy="2.4"> cells/ml)</tspan></text>
<text x="1.8" y="300.6" font-size="11.0" font-weight="bold" fill="#000">E</text>
<line x1="27.1" y1="305.9" x2="27.1" y2="396.0" stroke="#000" stroke-width="1.3"/>
<line x1="26.45" y1="395.4" x2="164.8" y2="395.4" stroke="#000" stroke-width="1.3"/>
<line x1="24.3" y1="306.4" x2="27.1" y2="306.4" stroke="#000" stroke-width="1.3"/>
<text transform="translate(22.8,308.5) scale(0.86,1)" text-anchor="end" font-size="6.3" fill="#000">100</text>
<line x1="24.3" y1="324.2" x2="27.1" y2="324.2" stroke="#000" stroke-width="1.3"/>
<text transform="translate(22.8,326.3) scale(0.86,1)" text-anchor="end" font-size="6.3" fill="#000">80</text>
<line x1="24.3" y1="342.0" x2="27.1" y2="342.0" stroke="#000" stroke-width="1.3"/>
<text transform="translate(22.8,344.1) scale(0.86,1)" text-anchor="end" font-size="6.3" fill="#000">60</text>
<line x1="24.3" y1="359.9" x2="27.1" y2="359.9" stroke="#000" stroke-width="1.3"/>
<text transform="translate(22.8,362.0) scale(0.86,1)" text-anchor="end" font-size="6.3" fill="#000">40</text>
<line x1="24.3" y1="377.7" x2="27.1" y2="377.7" stroke="#000" stroke-width="1.3"/>
<text transform="translate(22.8,379.8) scale(0.86,1)" text-anchor="end" font-size="6.3" fill="#000">20</text>
<line x1="24.3" y1="395.4" x2="27.1" y2="395.4" stroke="#000" stroke-width="1.3"/>
<text transform="translate(22.8,397.5) scale(0.86,1)" text-anchor="end" font-size="6.3" fill="#000">0</text>
<text transform="translate(6.0,348.5) rotate(-90)" font-size="6.2" font-weight="bold" text-anchor="middle" textLength="78.5" lengthAdjust="spacingAndGlyphs" fill="#000">% Max Platelet Response</text>
<rect x="34.1" y="393.49699999999996" width="8.199999999999996" height="1.3030000000000541" fill="#fff" stroke="#111" stroke-width="1.0"/>
<line x1="38.2" y1="392.99699999999996" x2="38.2" y2="392.28499999999997" stroke="#000" stroke-width="0.9"/>
<line x1="36.2" y1="392.28499999999997" x2="40.2" y2="392.28499999999997" stroke="#000" stroke-width="0.9"/>
<rect x="46.7" y="381.51599999999996" width="8.599999999999994" height="13.284000000000049" fill="#000"/>
<line x1="51.0" y1="381.51599999999996" x2="51.0" y2="374.48499999999996" stroke="#000" stroke-width="0.9"/>
<line x1="49.0" y1="374.48499999999996" x2="53.0" y2="374.48499999999996" stroke="#000" stroke-width="0.9"/>
<rect x="68.3" y="306.9" width="8.200000000000003" height="87.90000000000003" fill="#fff" stroke="#111" stroke-width="1.0"/>
<rect x="80.9" y="306.4" width="8.899999999999991" height="88.40000000000003" fill="#000"/>
<rect x="102.6" y="354.515" width="8.300000000000011" height="40.285000000000025" fill="#fff" stroke="#111" stroke-width="1.0"/>
<line x1="106.75" y1="354.015" x2="106.75" y2="344.22499999999997" stroke="#000" stroke-width="0.9"/>
<line x1="104.75" y1="344.22499999999997" x2="108.75" y2="344.22499999999997" stroke="#000" stroke-width="0.9"/>
<line x1="106.7" y1="336.7" x2="106.7" y2="342.3" stroke="#444" stroke-width="0.7"/>
<line x1="105.60000000000001" y1="337.6333333333333" x2="107.8" y2="337.6333333333333" stroke="#444" stroke-width="0.6"/>
<line x1="105.60000000000001" y1="339.5" x2="107.8" y2="339.5" stroke="#444" stroke-width="0.6"/>
<line x1="105.60000000000001" y1="341.3666666666667" x2="107.8" y2="341.3666666666667" stroke="#444" stroke-width="0.6"/>
<rect x="115.1" y="328.205" width="8.700000000000003" height="66.59500000000003" fill="#000"/>
<line x1="119.44999999999999" y1="328.205" x2="119.44999999999999" y2="321.352" stroke="#000" stroke-width="0.9"/>
<line x1="117.19999999999999" y1="321.352" x2="121.69999999999999" y2="321.352" stroke="#000" stroke-width="0.9"/>
<circle cx="119.9" cy="317.9" r="0.9" fill="#333"/>
<rect x="136.8" y="366.97499999999997" width="8.299999999999983" height="27.825000000000045" fill="#fff" stroke="#111" stroke-width="1.0"/>
<line x1="140.95" y1="366.47499999999997" x2="140.95" y2="357.13" stroke="#000" stroke-width="0.9"/>
<line x1="138.95" y1="357.13" x2="142.95" y2="357.13" stroke="#000" stroke-width="0.9"/>
<line x1="140.9" y1="351.6" x2="140.9" y2="356.3" stroke="#444" stroke-width="0.7"/>
<line x1="139.8" y1="352.77500000000003" x2="142.0" y2="352.77500000000003" stroke="#444" stroke-width="0.6"/>
<line x1="139.8" y1="355.125" x2="142.0" y2="355.125" stroke="#444" stroke-width="0.6"/>
<rect x="149.9" y="351.34499999999997" width="8.400000000000006" height="43.45500000000004" fill="#000"/>
<line x1="154.10000000000002" y1="351.34499999999997" x2="154.10000000000002" y2="341.55499999999995" stroke="#000" stroke-width="0.9"/>
<line x1="152.10000000000002" y1="341.55499999999995" x2="156.10000000000002" y2="341.55499999999995" stroke="#000" stroke-width="0.9"/>
<line x1="154.1" y1="336.4" x2="154.1" y2="340.5" stroke="#444" stroke-width="0.7"/>
<line x1="153.0" y1="337.42499999999995" x2="155.2" y2="337.42499999999995" stroke="#444" stroke-width="0.6"/>
<line x1="153.0" y1="339.475" x2="155.2" y2="339.475" stroke="#444" stroke-width="0.6"/>
<rect x="169.6" y="300.6" width="11.5" height="3.4" fill="#fff" stroke="#333" stroke-width="0.85"/>
<rect x="169.2" y="319.5" width="12.3" height="3.3" fill="#000"/>
<text x="191.7" y="304.8" font-size="6.4" textLength="31.0" lengthAdjust="spacingAndGlyphs" fill="#000">Aggregation</text>
<text x="188.7" y="312.4" font-size="6.4" textLength="38.0" lengthAdjust="spacingAndGlyphs" fill="#000">(% Max, AUC)</text>
<text x="194.0" y="323.3" font-size="6.4" textLength="25.0" lengthAdjust="spacingAndGlyphs" fill="#000">Secretion</text>
<text x="189.4" y="331.7" font-size="6.4" textLength="34.2" lengthAdjust="spacingAndGlyphs" fill="#000">(% Max, AU)</text>
<line x1="43.0" y1="404.5" x2="44.599999999999994" y2="404.5" stroke="#333" stroke-width="0.8"/>
<line x1="77.1" y1="404.5" x2="79.9" y2="404.5" stroke="#000" stroke-width="0.9"/>
<line x1="78.5" y1="403.1" x2="78.5" y2="405.9" stroke="#000" stroke-width="0.9"/>
<line x1="112.19999999999999" y1="404.5" x2="115.0" y2="404.5" stroke="#000" stroke-width="0.9"/>
<line x1="113.6" y1="403.1" x2="113.6" y2="405.9" stroke="#000" stroke-width="0.9"/>
<line x1="146.0" y1="404.5" x2="148.8" y2="404.5" stroke="#000" stroke-width="0.9"/>
<line x1="147.4" y1="403.1" x2="147.4" y2="405.9" stroke="#000" stroke-width="0.9"/>
<line x1="43.0" y1="414.2" x2="44.599999999999994" y2="414.2" stroke="#333" stroke-width="0.8"/>
<line x1="77.7" y1="414.2" x2="79.3" y2="414.2" stroke="#333" stroke-width="0.8"/>
<line x1="112.19999999999999" y1="414.2" x2="115.0" y2="414.2" stroke="#000" stroke-width="0.9"/>
<line x1="113.6" y1="412.8" x2="113.6" y2="415.59999999999997" stroke="#000" stroke-width="0.9"/>
<line x1="146.6" y1="414.2" x2="148.20000000000002" y2="414.2" stroke="#333" stroke-width="0.8"/>
<line x1="43.0" y1="426.0" x2="44.599999999999994" y2="426.0" stroke="#333" stroke-width="0.8"/>
<line x1="77.7" y1="426.0" x2="79.3" y2="426.0" stroke="#333" stroke-width="0.8"/>
<line x1="112.8" y1="426.0" x2="114.39999999999999" y2="426.0" stroke="#333" stroke-width="0.8"/>
<line x1="146.0" y1="426.0" x2="148.8" y2="426.0" stroke="#000" stroke-width="0.9"/>
<line x1="147.4" y1="424.6" x2="147.4" y2="427.4" stroke="#000" stroke-width="0.9"/>
<text x="163.8" y="405.3" font-size="6.2" font-weight="bold" textLength="81.8" lengthAdjust="spacingAndGlyphs" fill="#000">PC3M-luc (100x10<tspan font-size="3.8" dy="-2.3">3</tspan><tspan dy="2.3"> cells/ml)</tspan></text>
<text x="163.7" y="416.3" font-size="6.1" font-weight="bold" textLength="42.0" lengthAdjust="spacingAndGlyphs" fill="#000">U73122 (10μM)</text>
<text x="163.7" y="427.8" font-size="6.1" font-weight="bold" textLength="54.5" lengthAdjust="spacingAndGlyphs" fill="#000">GF109 203X (10μM)</text>
<text x="255.0" y="300.6" font-size="11.0" font-weight="bold" fill="#000">F</text>
<line x1="291.5" y1="306.6" x2="291.5" y2="393.6" stroke="#000" stroke-width="1.3"/>
<line x1="290.85" y1="393.0" x2="404.3" y2="393.0" stroke="#000" stroke-width="1.3"/>
<line x1="288.9" y1="307.0" x2="291.5" y2="307.0" stroke="#000" stroke-width="1.3"/>
<text transform="translate(287.3,309.1) scale(0.95,1)" text-anchor="end" font-size="6.1" fill="#000">150</text>
<line x1="288.9" y1="336.0" x2="291.5" y2="336.0" stroke="#000" stroke-width="1.3"/>
<text transform="translate(287.3,338.1) scale(0.95,1)" text-anchor="end" font-size="6.1" fill="#000">100</text>
<line x1="288.9" y1="364.6" x2="291.5" y2="364.6" stroke="#000" stroke-width="1.3"/>
<text transform="translate(287.3,366.70000000000005) scale(0.95,1)" text-anchor="end" font-size="6.1" fill="#000">50</text>
<line x1="288.9" y1="393.0" x2="291.5" y2="393.0" stroke="#000" stroke-width="1.3"/>
<text transform="translate(287.3,395.1) scale(0.95,1)" text-anchor="end" font-size="6.1" fill="#000">0</text>
<text transform="translate(271.0,346.0) rotate(-90)" font-size="6.2" font-weight="bold" text-anchor="middle" textLength="75.6" lengthAdjust="spacingAndGlyphs" fill="#000">% Max Platelet Response</text>
<rect x="298.6" y="391.6" width="10.2" height="1.0" fill="#000"/>
<path d="M299.5,392.2 Q303.7,390.6 308,392.2" fill="none" stroke="#000" stroke-width="0.8"/>
<rect x="313.0" y="383.368" width="9.800000000000011" height="9.031999999999982" fill="#000"/>
<line x1="317.9" y1="383.368" x2="317.9" y2="380.38666666666666" stroke="#000" stroke-width="0.9"/>
<line x1="315.65" y1="380.38666666666666" x2="320.15" y2="380.38666666666666" stroke="#000" stroke-width="0.9"/>
<rect x="336.9" y="336.1666666666667" width="8.900000000000034" height="56.23333333333329" fill="#fff" stroke="#111" stroke-width="1.0"/>
<rect x="350.9" y="335.6666666666667" width="9.5" height="56.73333333333329" fill="#000"/>
<rect x="374.5" y="328.4266666666667" width="8.800000000000011" height="63.9733333333333" fill="#fff" stroke="#111" stroke-width="1.0"/>
<line x1="378.9" y1="327.9266666666667" x2="378.9" y2="315.31333333333333" stroke="#000" stroke-width="0.9"/>
<line x1="376.4" y1="315.31333333333333" x2="381.4" y2="315.31333333333333" stroke="#000" stroke-width="0.9"/>
<rect x="388.2" y="343.12" width="9.199999999999989" height="49.27999999999997" fill="#000"/>
<line x1="392.79999999999995" y1="343.12" x2="392.79999999999995" y2="337.67333333333335" stroke="#000" stroke-width="0.9"/>
<line x1="390.54999999999995" y1="337.67333333333335" x2="395.04999999999995" y2="337.67333333333335" stroke="#000" stroke-width="0.9"/>
<rect x="413.09999999999997" y="299.3" width="11.5" height="3.4" fill="#fff" stroke="#333" stroke-width="0.85"/>
<rect x="412.7" y="317.7" width="12.3" height="3.3" fill="#000"/>
<text x="434.4" y="303.3" font-size="6.4" textLength="32.6" lengthAdjust="spacingAndGlyphs" fill="#000">Aggregation</text>
<text x="432.2" y="311.0" font-size="6.4" textLength="37.2" lengthAdjust="spacingAndGlyphs" fill="#000">(% Max, AUC)</text>
<text x="436.7" y="321.0" font-size="6.4" textLength="25.0" lengthAdjust="spacingAndGlyphs" fill="#000">Secretion</text>
<text x="432.2" y="329.4" font-size="6.4" textLength="33.4" lengthAdjust="spacingAndGlyphs" fill="#000">(% Max, AU)</text>
<line x1="313.4" y1="400.4" x2="315.0" y2="400.4" stroke="#333" stroke-width="0.8"/>
<line x1="347.1" y1="400.4" x2="349.9" y2="400.4" stroke="#000" stroke-width="0.9"/>
<line x1="348.5" y1="399.0" x2="348.5" y2="401.79999999999995" stroke="#000" stroke-width="0.9"/>
<line x1="385.40000000000003" y1="400.4" x2="388.2" y2="400.4" stroke="#000" stroke-width="0.9"/>
<line x1="386.8" y1="399.0" x2="386.8" y2="401.79999999999995" stroke="#000" stroke-width="0.9"/>
<line x1="313.4" y1="413.0" x2="315.0" y2="413.0" stroke="#333" stroke-width="0.8"/>
<line x1="347.7" y1="413.0" x2="349.3" y2="413.0" stroke="#333" stroke-width="0.8"/>
<line x1="385.40000000000003" y1="413.0" x2="388.2" y2="413.0" stroke="#000" stroke-width="0.9"/>
<line x1="386.8" y1="411.6" x2="386.8" y2="414.4" stroke="#000" stroke-width="0.9"/>
<text x="402.0" y="401.7" font-size="6.2" font-weight="bold" textLength="81.0" lengthAdjust="spacingAndGlyphs" fill="#000">PC3M-luc (100x10<tspan font-size="3.8" dy="-2.3">3</tspan><tspan dy="2.3"> cells/ml)</tspan></text>
<text x="401.8" y="414.6" font-size="6.3" font-weight="bold" textLength="40.0" lengthAdjust="spacingAndGlyphs" fill="#000">BAPTA(10μM)</text>
</svg>
</body></html>
